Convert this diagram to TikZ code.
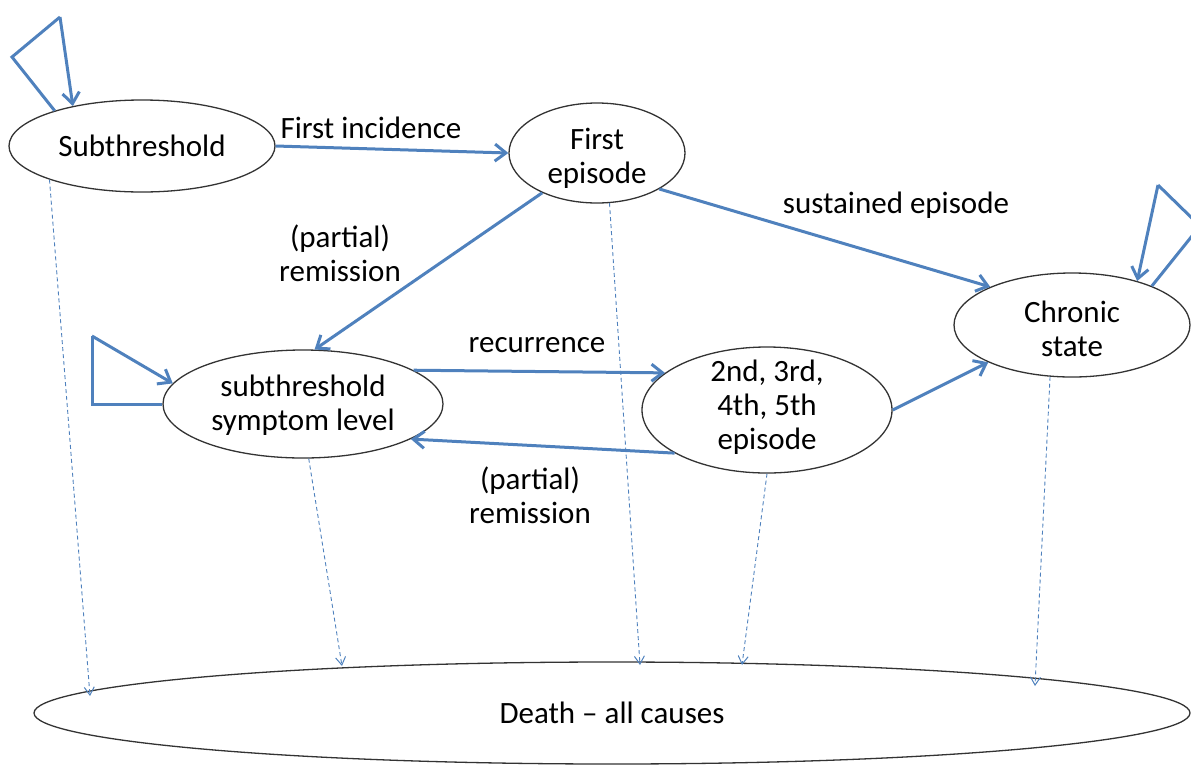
\documentclass[tikz,border=0pt]{standalone}
\usepackage{fontspec}
\setmainfont{Carlito}
\usetikzlibrary{arrows.meta,shapes.geometric}
\definecolor{arrblue}{RGB}{79,129,189}
\tikzset{
  lbl/.style={font=\fontsize{31}{34}\selectfont,align=center,inner sep=0pt},
  state/.style={draw=black!80,line width=1.3pt,ellipse,inner sep=0pt},
  flow/.style={draw=arrblue,line width=3pt,-{Straight Barb[length=11pt,width=17pt,line width=3pt]}},
  loopline/.style={draw=arrblue,line width=3pt},
  todeath/.style={draw=arrblue,line width=0.9pt,dash pattern=on 4pt off 3pt,-{Straight Barb[length=8pt,width=10pt,line width=1pt]}}
}
\begin{document}
\begin{tikzpicture}[x=1pt,y=-1pt]
\useasboundingbox (0,0) rectangle (1191,764);
% states
\node[state,minimum width=266pt,minimum height=92pt,label={[lbl]center:Subthreshold}] (sub) at (142,146) {};
\node[state,minimum width=176pt,minimum height=100pt,label={[lbl,yshift=-5pt]center:First\\episode}] (first) at (597,153) {};
\node[state,minimum width=236pt,minimum height=104pt,label={[lbl,yshift=-4pt]center:Chronic\\state}] (chronic) at (1072,325) {};
\node[state,minimum width=280pt,minimum height=108pt,label={[lbl,yshift=-1pt]center:subthreshold\\symptom level}] (symp) at (303,404) {};
\node[state,minimum width=250pt,minimum height=126pt,label={[lbl,yshift=3pt]center:2nd, 3rd,\\4th, 5th\\episode}] (rec) at (767,410) {};
\node[state,minimum width=1156pt,minimum height=102pt,label={[lbl]center:Death -- all causes}] (death) at (612,713) {};
% main flows
\draw[flow] (sub.east) -- (first.west);
\node[lbl] (l1) at (371,128) {First incidence};
\draw[flow] (first.-144) -- (symp.78);
\node[lbl] (l2) at (340,253) {(partial)\\remission};
\draw[flow] (first.-30) -- (chronic.155);
\node[lbl] (l3) at (896,205) {sustained episode};
\draw[flow] (symp.17) -- (rec.160);
\node[lbl] (l4) at (537,345) {recurrence};
\draw[flow] (rec.-155) -- (symp.-18);
\node[lbl] (l5) at (530,495) {(partial)\\remission};
\draw[flow] (rec.east) -- (chronic.-156);
% self loops
\coordinate (s1) at (12,57);
\coordinate (s2) at (60,17);
\draw[loopline] (sub.158) -- (s1) -- (s2);
\draw[flow] (s2) -- (sub.150);
\coordinate (p1) at (92,404);
\coordinate (p2) at (92,336);
\draw[loopline] (symp.west) -- (p1) -- (p2);
\draw[flow] (p2) -- (symp.171);
\coordinate (c1) at (1200,226);
\coordinate (c2) at (1158,185);
\draw[loopline] (chronic.26) -- (c1) -- (c2);
\draw[flow] (c2) -- (chronic.34);
% to death
\coordinate (d1) at (90,696);
\coordinate (d2) at (342,666);
\coordinate (d3) at (640,665);
\coordinate (d4) at (742,665);
\coordinate (d5) at (1035,686);
\draw[todeath] (sub.-160) -- (d1);
\draw[todeath] (symp.-84) -- (d2);
\draw[todeath] (first.-76) -- (d3);
\draw[todeath] (rec.-90) -- (d4);
\draw[todeath] (chronic.-113) -- (d5);
\end{tikzpicture}
\end{document}
